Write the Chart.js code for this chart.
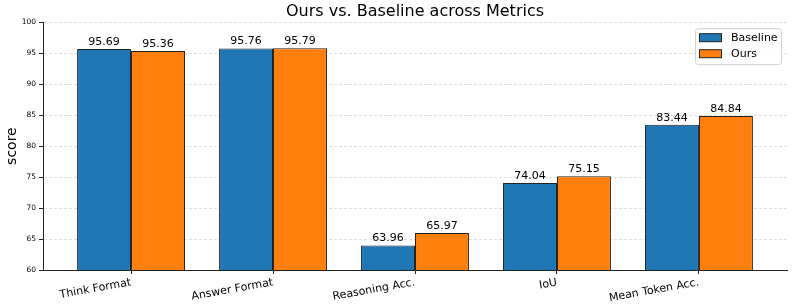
<!DOCTYPE html>
<html>
<head>
<meta charset="utf-8">
<script src="https://cdn.jsdelivr.net/npm/chart.js@4/dist/chart.umd.min.js"></script>
<style>
html,body{margin:0;padding:0;background:#fff;}
#wrap{width:793px;height:308px;position:relative;}
</style>
</head>
<body>
<div id="wrap"><canvas id="c" width="793" height="308"></canvas></div>
<script>
const categories = ["Think Format", "Answer Format", "Reasoning Acc.", "IoU", "Mean Token Acc."];
const baselineValues = [95.69, 95.76, 63.96, 74.04, 83.44];
const oursValues = [95.36, 95.79, 65.97, 75.15, 84.84];
const yTicks = [60, 65, 70, 75, 80, 85, 90, 95, 100];
const seriesNames = ["Baseline", "Ours"];

const FONT = "'DejaVu Sans', sans-serif";

const valueLabels = {
  id: 'valueLabels',
  afterDatasetsDraw(chart) {
    const ctx = chart.ctx;
    ctx.save();
    ctx.font = "11px " + FONT;
    ctx.fillStyle = '#000';
    ctx.textAlign = 'center';
    ctx.textBaseline = 'alphabetic';
    chart.data.datasets.forEach((ds, di) => {
      const meta = chart.getDatasetMeta(di);
      meta.data.forEach((el, i) => {
        ctx.fillText(ds.data[i].y.toFixed(2), el.x, el.y - 4);
      });
    });
    ctx.restore();
  }
};

const innerLegend = {
  id: 'innerLegend',
  afterDraw(chart) {
    const ctx = chart.ctx;
    const area = chart.chartArea;
    const w = 86, h = 36;
    const x = area.right - 6 - w, y = area.top + 6;
    ctx.save();
    ctx.fillStyle = 'rgba(255,255,255,0.8)';
    ctx.strokeStyle = '#d0d0d0';
    ctx.lineWidth = 1;
    ctx.beginPath();
    if (ctx.roundRect) ctx.roundRect(x + 0.5, y + 0.5, w, h, 3); else ctx.rect(x + 0.5, y + 0.5, w, h);
    ctx.fill();
    ctx.stroke();
    ctx.font = "11px " + FONT;
    ctx.textBaseline = 'middle';
    ctx.textAlign = 'left';
    chart.data.datasets.forEach((ds, i) => {
      const sy = y + 5 + i * 16;
      ctx.fillStyle = ds.backgroundColor;
      ctx.fillRect(x + 4.5, sy + 0.5, 22, 8);
      ctx.strokeStyle = '#222';
      ctx.strokeRect(x + 4.5, sy + 0.5, 22, 8);
      ctx.fillStyle = '#000';
      ctx.fillText(ds.label, x + 36, sy + 4.5);
    });
    ctx.restore();
  }
};

new Chart(document.getElementById('c'), {
  type: 'bar',
  data: {
    datasets: [
      {
        label: seriesNames[0],
        data: baselineValues.map((v, i) => ({x: i, y: v})),
        backgroundColor: '#1f77b4',
        borderColor: '#222',
        borderWidth: 1,
        borderSkipped: false,
        categoryPercentage: 0.76,
        barPercentage: 1.0
      },
      {
        label: seriesNames[1],
        data: oursValues.map((v, i) => ({x: i, y: v})),
        backgroundColor: '#ff7f0e',
        borderColor: '#222',
        borderWidth: 1,
        borderSkipped: false,
        categoryPercentage: 0.76,
        barPercentage: 1.0
      }
    ]
  },
  options: {
    responsive: false,
    animation: false,
    layout: {padding: {left: 0, right: 6, top: 0, bottom: 0}},
    plugins: {
      legend: {display: false},
      tooltip: {enabled: false},
      title: {
        display: true,
        text: 'Ours vs. Baseline across Metrics',
        fullSize: false,
        color: '#000',
        font: {family: FONT, size: 16, weight: 'normal'},
        padding: {top: 2, bottom: 1}
      }
    },
    scales: {
      x: {
        type: 'linear',
        offset: false,
        min: -0.62,
        max: 4.62,
        afterBuildTicks: (s) => { s.ticks = categories.map((c, i) => ({value: i})); },
        afterFit: (s) => { s.height = 38; },
        grid: {offset: false, drawOnChartArea: false, drawTicks: true, tickLength: 4, tickColor: '#222', tickWidth: 1},
        border: {color: '#222', width: 1},
        ticks: {
          autoSkip: false,
          minRotation: 10,
          maxRotation: 10,
          padding: 2,
          color: '#000',
          font: {family: FONT, size: 11},
          callback: (v) => categories[v]
        }
      },
      y: {
        min: 60,
        max: 100,
        afterBuildTicks: (s) => { s.ticks = yTicks.map(v => ({value: v})); },
        afterFit: (s) => { s.width = 43; },
        grid: {color: '#dedede', drawTicks: true, tickLength: 4, tickColor: '#222', tickBorderDash: [], tickWidth: 1},
        border: {color: '#222', width: 1, dash: [3, 2]},
        title: {display: true, text: 'score', color: '#000', font: {family: FONT, size: 14}, padding: {top: 4, bottom: 0}},
        ticks: {color: '#000', font: {family: FONT, size: 7.5}, padding: 3}
      }
    }
  },
  plugins: [valueLabels, innerLegend]
});
</script>
</body>
</html>
